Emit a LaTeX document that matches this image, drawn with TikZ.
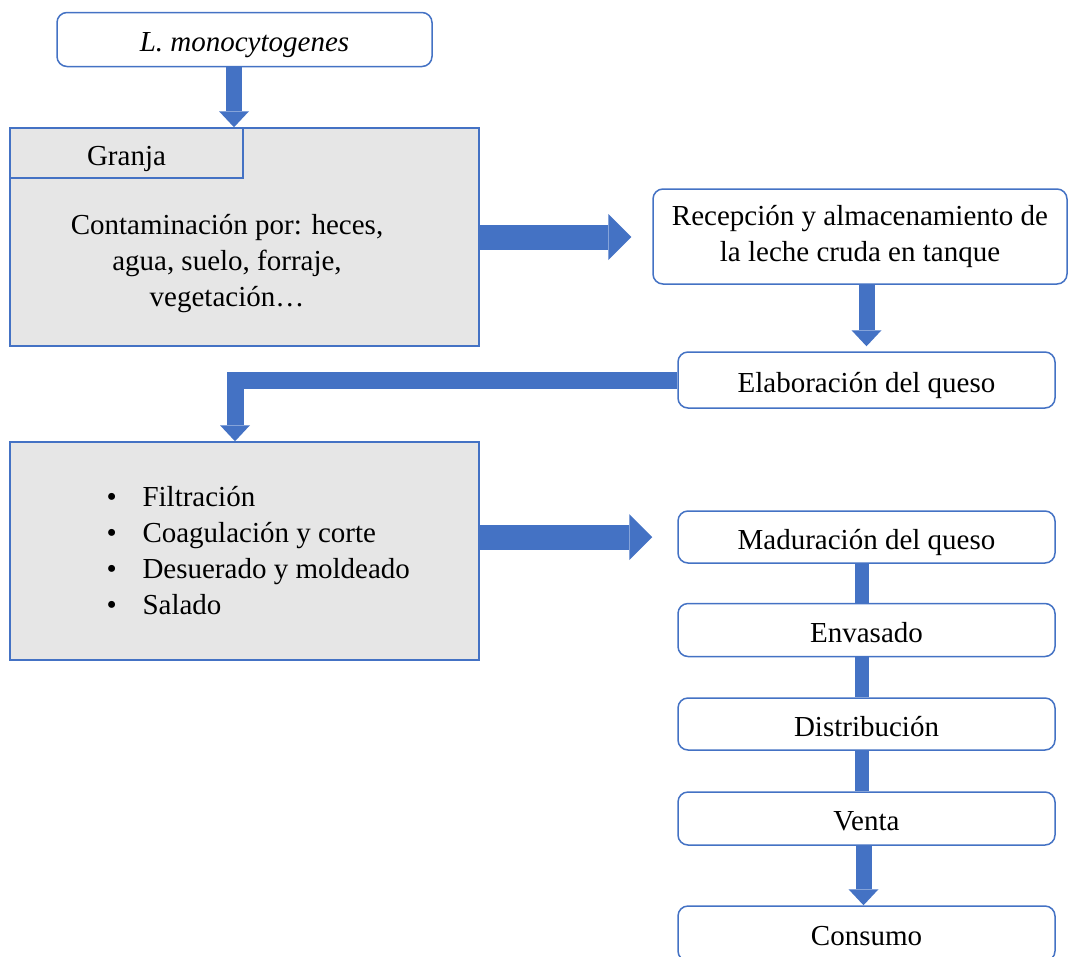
\documentclass[tikz,border=0pt]{standalone}
\usepackage{fontspec}
\setmainfont{Liberation Serif}
\usetikzlibrary{arrows.meta}
\definecolor{flowblue}{HTML}{4472C4}
\definecolor{boxgray}{HTML}{E6E6E6}
\tikzset{
  stepbox/.style={draw=flowblue, line width=1.5pt, fill=white, rounded corners=10pt, align=center, inner sep=0pt, minimum width=377pt},
  oneline/.style={text height=30pt, text depth=6pt},
  graybox/.style={draw=flowblue, line width=1.5pt, fill=boxgray, inner sep=0pt},
  thinarrow/.style={draw=flowblue, line width=16pt, -{Triangle[width=30pt,length=16pt,line width=0pt]}},
  thickarrow/.style={draw=flowblue, line width=25pt, -{Triangle[width=46pt,length=23pt,line width=0pt]}},
  joinbar/.style={draw=flowblue, line width=14pt}
}
\begin{document}
\begin{tikzpicture}[x=1pt, y=-1pt, font=\fontsize{29}{36}\selectfont]
\useasboundingbox (0,0) rectangle (1068,956);
\node[stepbox, oneline, minimum width=375pt, minimum height=54pt] (lmono) at (244.5,39.5) {\itshape L. monocytogenes};
\node[graybox, minimum width=469pt, minimum height=218pt] (granja) at (244.5,237) {};
\node[graybox, oneline, minimum width=233pt, minimum height=50pt] (tab) at (126.5,153) {Granja};
\node[align=center] (contam) at (227,264) {Contaminación por: heces,\\agua, suelo, forraje,\\vegetación…};
\node[stepbox, minimum width=414pt, minimum height=95pt] (recep) at (860,236.5) {Recepción y almacenamiento de\\la leche cruda en tanque};
\node[stepbox, oneline, minimum height=56pt] (elab) at (866.5,380) {Elaboración del queso};
\node[graybox, minimum width=469pt, minimum height=218pt] (proc) at (244.5,551) {};
\node[anchor=west, align=left] (pasos) at (103,551) {\makebox[36pt][l]{\textbullet}Filtración\\\makebox[36pt][l]{\textbullet}Coagulación y corte\\\makebox[36pt][l]{\textbullet}Desuerado y moldeado\\\makebox[36pt][l]{\textbullet}Salado};
\node[stepbox, oneline, minimum height=52pt] (madur) at (866.5,537) {Maduración del queso};
\node[stepbox, oneline, minimum height=53pt] (envas) at (866.5,630) {Envasado};
\node[stepbox, oneline, minimum height=52pt] (distr) at (866.5,724) {Distribución};
\node[stepbox, oneline, minimum height=53pt] (venta) at (866.5,818.5) {Venta};
\node[stepbox, oneline, minimum height=55pt] (consumo) at (866.5,933.5) {Consumo};
\draw[thinarrow] ([xshift=-10.5pt]lmono.south) -- ([xshift=-10.5pt]granja.north);
\draw[thickarrow, shorten >=21pt] (granja.east) -- (granja.east -| recep.west);
\draw[thinarrow, shorten >=5pt] (recep.south -| elab.north) -- (elab.north);
\draw[thinarrow, line width=17pt] (elab.west) -| ([xshift=-9.5pt]proc.north);
\draw[thickarrow, shorten >=25pt] (madur.west -| proc.east) -- (madur.west);
\foreach \a/\b in {madur/envas, envas/distr, distr/venta}
  \draw[joinbar] ([xshift=-4.5pt]\a.south) -- ([xshift=-4.5pt]\b.north);
\draw[thinarrow] ([xshift=-3pt]venta.south) -- ([xshift=-3pt]consumo.north);
\end{tikzpicture}
\end{document}
